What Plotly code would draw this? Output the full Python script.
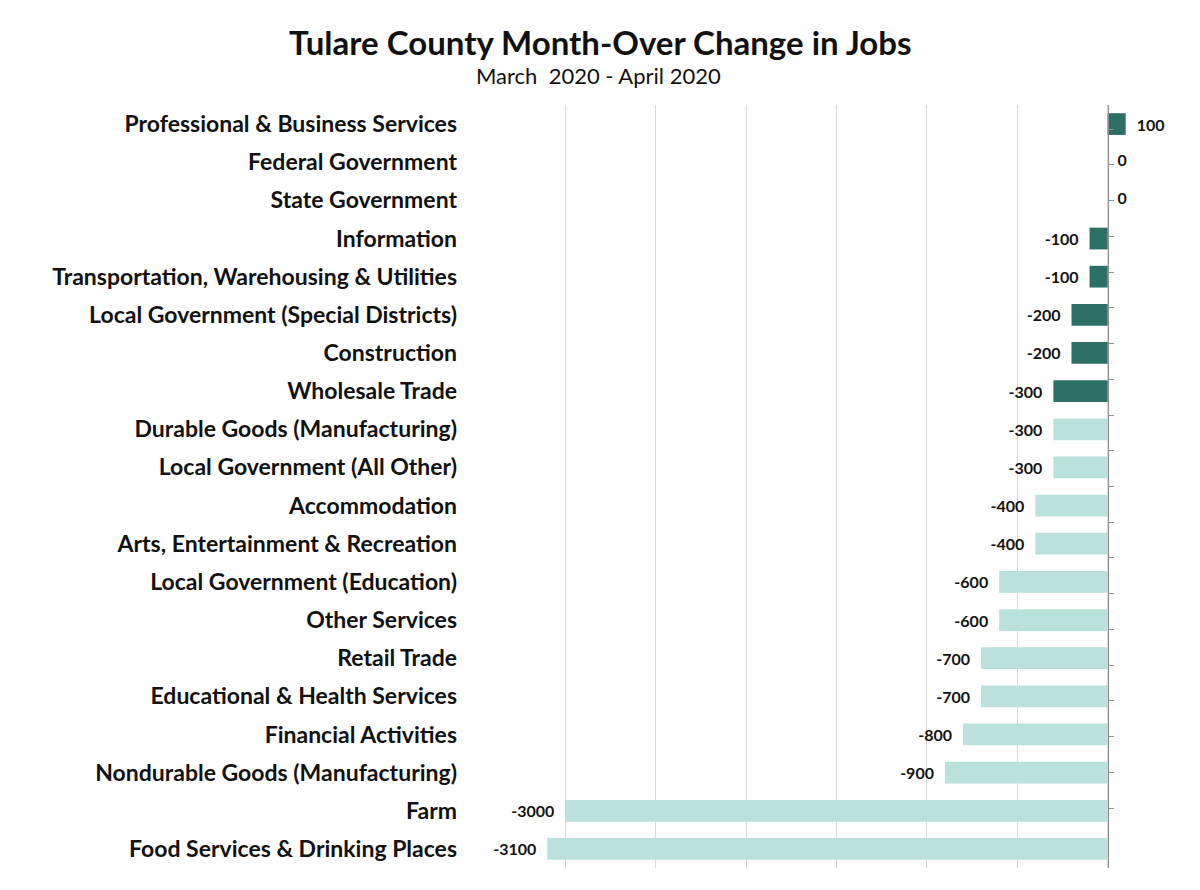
import plotly.graph_objects as go

# Tulare County, month-over change in jobs (March 2020 -> April 2020)
industries = [
    "Professional & Business Services",
    "Federal Government",
    "State Government",
    "Information",
    "Transportation, Warehousing & Utilities",
    "Local Government (Special Districts)",
    "Construction",
    "Wholesale Trade",
    "Durable Goods (Manufacturing)",
    "Local Government (All Other)",
    "Accommodation",
    "Arts, Entertainment & Recreation",
    "Local Government (Education)",
    "Other Services",
    "Retail Trade",
    "Educational & Health Services",
    "Financial Activities",
    "Nondurable Goods (Manufacturing)",
    "Farm",
    "Food Services & Drinking Places",
]
job_change = [100, 0, 0, -100, -100, -200, -200, -300, -300, -300,
              -400, -400, -600, -600, -700, -700, -800, -900, -3000, -3100]
highlighted = industries[:8]

DARK = "#2b6f66"
LIGHT = "#bae1dc"
FONT = "Lato, 'Open Sans', sans-serif"
PAD = "\u2002"

colors = [DARK if name in highlighted else LIGHT for name in industries]
text_pos = ["outside" if v != 0 else "none" for v in job_change]
labels = [f"{PAD}{v}" if v > 0 else f"{v}{PAD}" for v in job_change]

fig = go.Figure()
fig.add_trace(go.Bar(
    x=job_change,
    y=industries,
    orientation="h",
    marker=dict(color=colors, line=dict(width=0)),
    text=labels,
    textposition=text_pos,
    textfont=dict(family=FONT, size=16, color="#111111", weight="bold"),
    cliponaxis=False,
    hoverinfo="x+y",
))
# zero-value labels sit just right of the axis
zeros = [n for n, v in zip(industries, job_change) if v == 0]
fig.add_trace(go.Scatter(
    x=[0] * len(zeros),
    y=zeros,
    mode="markers+text",
    marker=dict(size=14, color="rgba(0,0,0,0)"),
    text=["0"] * len(zeros),
    textposition="middle right",
    textfont=dict(family=FONT, size=16, color="#111111", weight="bold"),
    showlegend=False,
    cliponaxis=False,
    hoverinfo="skip",
))
# invisible trace to carry the category axis drawn at x = 0
fig.add_trace(go.Scatter(
    x=[0] * len(industries), y=industries, yaxis="y2",
    mode="markers", marker=dict(opacity=0), showlegend=False, hoverinfo="skip",
))

ML, MR, MT, MB = 475, 2, 105, 22
plot_w = 1200 - ML - MR
plot_h = 890 - MT - MB

fig.update_layout(
    width=1200,
    height=890,
    paper_bgcolor="white",
    plot_bgcolor="white",
    margin=dict(l=ML, r=MR, t=MT, b=MB, autoexpand=False),
    showlegend=False,
    bargap=0.43,
    font=dict(family=FONT, color="#111111"),
    xaxis=dict(
        range=[-3500, 500],
        dtick=500,
        showgrid=True,
        gridcolor="#d9d9d9",
        gridwidth=1,
        zeroline=False,
        showticklabels=False,
        showline=False,
    ),
    yaxis=dict(
        type="category",
        autorange="reversed",
        showgrid=False,
        ticks="",
        automargin=False,
        ticklabelstandoff=17,
        tickfont=dict(family=FONT, size=23, color="#111111", weight="bold"),
    ),
    yaxis2=dict(
        type="category",
        overlaying="y",
        anchor="free",
        position=0.875,
        side="right",
        autorange="reversed",
        categoryorder="array",
        categoryarray=industries,
        showgrid=False,
        showline=True,
        linecolor="#8c8c8c",
        linewidth=1,
        ticks="outside",
        tickson="boundaries",
        ticklen=5,
        tickcolor="#8c8c8c",
        showticklabels=False,
        automargin=False,
    ),
    annotations=[
        dict(text="<b>Tulare County Month-Over Change in Jobs</b>",
             x=(600 - ML) / plot_w, y=1 + (MT - 42) / plot_h,
             xref="paper", yref="paper", showarrow=False,
             xanchor="center", yanchor="middle",
             font=dict(family=FONT, size=33, color="#111111")),
        dict(text="March  2020 - April 2020",
             x=(598 - ML) / plot_w, y=1 + (MT - 76) / plot_h,
             xref="paper", yref="paper", showarrow=False,
             xanchor="center", yanchor="middle",
             font=dict(family=FONT, size=22, color="#111111")),
    ],
)

fig.write_html("out.html", config={"displayModeBar": False},
               post_script="document.body.style.margin='0';")
